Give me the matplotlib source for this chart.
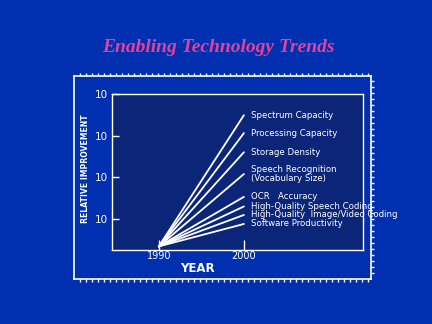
import matplotlib
matplotlib.use("Agg")
import matplotlib.pyplot as plt
import numpy as np

# -----------------------------
# Data
# -----------------------------
years = [1990, 2000]
start_value = 2.2
series = [
    "Spectrum Capacity",
    "Processing Capacity",
    "Storage Density",
    "Speech Recognition\n(Vocabulary Size)",
    "OCR   Accuracy",
    "High-Quality Speech Coding",
    "High-Quality  Image/Video Coding",
    "Software Productivity",
]
end_values = [3100, 1150, 400, 120, 34, 20, 12.5, 7.6]
y_ticks = [10, 100, 1000, 10000]
y_tick_labels = ["10", "10", "10", "10"]
x_ticks = [1990, 2000]

bg = "#0030b0"
inner_bg = "#0b2578"
title_color = "#e8409a"
W, H = 432, 324

fig = plt.figure(figsize=(4.32, 3.24), dpi=100, facecolor=bg)

def frac(x0, y0, x1, y1):
    # pixel box (top-left origin) -> figure fraction
    return [x0 / W, 1 - y1 / H, (x1 - x0) / W, (y1 - y0) / H]

# -----------------------------
# Outer frame
# -----------------------------
frame = fig.add_axes(frac(74, 76, 371, 279))
frame.set_facecolor("none")
frame.set_xlim(0, 297)
frame.set_ylim(0, 203)
for s in frame.spines.values():
    s.set_color("white")
    s.set_linewidth(1.2)
frame.set_xticks(np.arange(6, 297, 6))
frame.set_yticks(np.arange(6, 203, 6))
frame.tick_params(axis="x", which="both", top=True, bottom=True, direction="out",
                  length=2, width=1, color="white", labelbottom=False)
frame.tick_params(axis="y", which="both", right=True, left=False, direction="out",
                  length=2, width=1, color="white", labelleft=False)

# -----------------------------
# Chart axes
# -----------------------------
ax = fig.add_axes(frac(112, 94, 363, 250))
ax.set_facecolor(inner_bg)
ax.set_yscale("log")
ax.set_xlim(1984.5, 2014)
ax.set_ylim(10 ** 0.256, 10 ** 4)

for s in ax.spines.values():
    s.set_color("white")
    s.set_linewidth(1.0)
    s.set_linestyle((0, (1, 1)))

for name, v in zip(series, end_values):
    ax.plot(years, [start_value, v], color="white", lw=1.3, solid_capstyle="round")
    ax.annotate(name, xy=(years[1], v), xytext=(5, 0), textcoords="offset points",
                ha="left", va="center", fontsize=6.2, color="white",
                linespacing=1.0)

ax.set_yticks(y_ticks)
ax.set_yticklabels(y_tick_labels)
ax.yaxis.set_minor_locator(matplotlib.ticker.NullLocator())
ax.tick_params(axis="y", direction="in", length=5, width=1, color="white",
               labelcolor="white", labelsize=7.5, pad=3)
ax.set_xticks(x_ticks)
ax.set_xticklabels([str(x) for x in x_ticks])
ax.tick_params(axis="x", direction="in", length=7, width=1, color="white",
               labelcolor="white", labelsize=7, pad=1)

fig.text(85 / W, 1 - 169 / H, "RELATIVE IMPROVEMENT", rotation=90, ha="center",
         va="center", color="white", fontsize=5.6, fontweight="bold")
fig.text(197 / W, 1 - 268 / H, "YEAR", ha="center", va="center", color="white",
         fontsize=8.5, fontweight="bold")

fig.text(218 / W, 1 - 47 / H, "Enabling Technology Trends", ha="center", va="center",
         color=title_color, fontsize=14, fontweight="bold", fontstyle="italic",
         family="Liberation Serif")

fig.savefig("out.png", dpi=100, facecolor=bg)
